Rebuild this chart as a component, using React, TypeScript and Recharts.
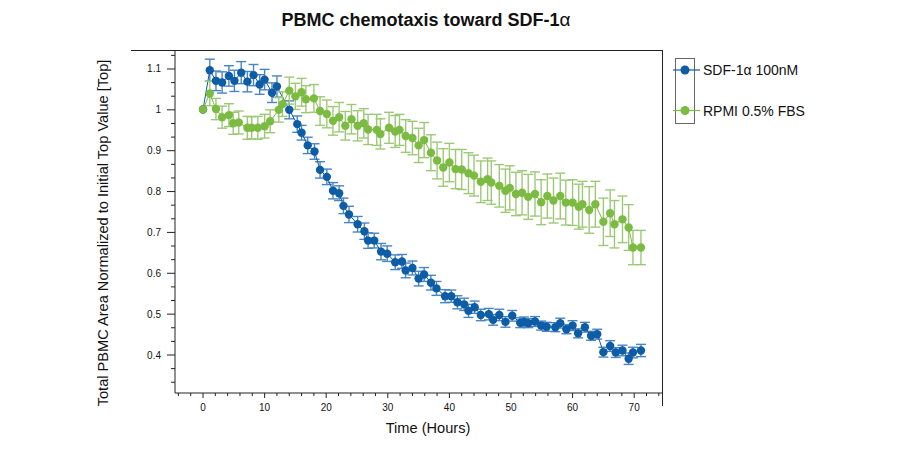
import { LineChart, Line, XAxis, YAxis, ErrorBar } from "recharts"

const FONT = '"Liberation Sans", Arial, Helvetica, sans-serif'

// SDF-1α 100nM
const sdfHours = [
  0, 1.1, 2.1, 3.1, 4.2, 5.1, 6.2, 7.2, 8.2, 9.2, 10.0, 11.2, 12.0,
  14.0,
  15.3, 16.0, 17.0, 18.1, 19.0, 20.1, 21.1, 22.1, 22.8, 23.7, 25.1, 26.2, 26.8, 27.8, 28.9, 29.9,
  31.2, 32.3, 32.9, 34.0, 35.0, 35.9, 37.0, 37.9,
  39.3, 40.3, 41.3, 42.4, 43.1, 44.1, 45.1,
  46.4, 47.1, 48.1, 49.1, 50.2,
  51.5, 52.1, 52.8, 53.9, 54.9, 55.8,
  57.2, 58.0, 59.0, 60.0, 60.9, 62.0, 63.0, 64.0,
  65.0, 66.1, 67.0, 68.1, 69.1, 69.8, 71.1,
]
const sdfValues = [
  1.001, 1.097, 1.071, 1.067, 1.083, 1.071, 1.091, 1.069, 1.085, 1.062, 1.074, 1.042, 1.057,
  1.0,
  0.965, 0.944, 0.913, 0.898, 0.853, 0.836, 0.802, 0.796, 0.765, 0.744, 0.72, 0.703, 0.68, 0.68, 0.653, 0.648,
  0.627, 0.629, 0.607, 0.613, 0.587, 0.597, 0.577, 0.563,
  0.544, 0.544, 0.529, 0.524, 0.508, 0.517, 0.498,
  0.5, 0.486, 0.498, 0.481, 0.496,
  0.479, 0.481, 0.478, 0.482, 0.472, 0.469,
  0.468, 0.478, 0.463, 0.472, 0.453, 0.468, 0.447, 0.451,
  0.407, 0.422, 0.406, 0.411, 0.391, 0.406, 0.411,
]
const sdfErrors = [
  0, 0.027, 0.024, 0.026, 0.025, 0.026, 0.027, 0.025, 0.026, 0.024, 0.025, 0.024, 0.026,
  0.022,
  0.02, 0.018, 0.02, 0.019, 0.02, 0.019, 0.02, 0.018, 0.019, 0.02, 0.019, 0.02, 0.019, 0.018, 0.02, 0.019,
  0.018, 0.017, 0.018, 0.017, 0.018, 0.017, 0.018, 0.017,
  0.016, 0.015, 0.016, 0.015, 0.016, 0.015, 0.014,
  0.014, 0.013, 0.014, 0.013, 0.013,
  0.012, 0.012, 0.011, 0.012, 0.011, 0.011,
  0.011, 0.012, 0.011, 0.012, 0.011, 0.012, 0.011, 0.012,
  0.012, 0.013, 0.012, 0.013, 0.014, 0.013, 0.015,
]

// RPMI 0.5% FBS
const rpmiHours = [
  0, 1.1, 2.1, 3.1, 4.2, 4.9, 5.8, 7.2, 7.9, 8.9, 10.0, 10.9, 12.3, 12.9,
  14.0, 15.0, 16.0, 16.7, 18.0, 19.0, 20.1, 21.1, 22.1, 23.1, 24.1, 25.1, 26.1, 26.8, 28.2, 28.8, 30.2, 31.2, 31.9,
  32.9, 34.0, 35.0, 35.9, 37.0, 38.0, 39.0, 40.0, 41.0, 42.0, 43.1, 44.0, 45.1,
  46.2, 46.8, 48.1, 49.1, 49.8, 50.8, 51.8, 52.8, 53.9, 54.9, 55.9, 56.9, 58.0, 58.9, 60.0, 61.0, 61.6, 62.7, 63.7,
  65.0, 66.1, 66.8, 68.1, 69.1,
  69.8, 71.1,
]
const rpmiValues = [
  1.001, 1.04, 1.002, 0.982, 0.987, 0.967, 0.969, 0.956, 0.956, 0.956, 0.96, 0.972, 1.0, 1.014,
  1.047, 1.033, 1.043, 1.026, 1.028, 0.997, 0.99, 0.973, 0.982, 0.961, 0.977, 0.961, 0.967, 0.952, 0.951, 0.941, 0.956, 0.947, 0.951,
  0.936, 0.931, 0.913, 0.926, 0.895, 0.876, 0.859, 0.871, 0.855, 0.854, 0.845, 0.839, 0.824,
  0.83, 0.822, 0.814, 0.802, 0.809, 0.794, 0.797, 0.787, 0.794, 0.774, 0.789, 0.778, 0.789, 0.773, 0.773, 0.763, 0.769, 0.755, 0.769,
  0.726, 0.747, 0.72, 0.732, 0.712,
  0.663, 0.663,
]
const rpmiErrors = [
  0, 0.03, 0.026, 0.027, 0.028, 0.027, 0.028, 0.028, 0.027, 0.028, 0.029, 0.028, 0.03, 0.03,
  0.033, 0.032, 0.034, 0.033, 0.034, 0.035, 0.034, 0.035, 0.036, 0.035, 0.036, 0.037, 0.036, 0.037, 0.038, 0.037, 0.038, 0.039, 0.038,
  0.04, 0.041, 0.042, 0.043, 0.044, 0.045, 0.046, 0.047, 0.048, 0.049, 0.05, 0.05, 0.051,
  0.052, 0.053, 0.052, 0.053, 0.054, 0.053, 0.054, 0.055, 0.054, 0.055, 0.054, 0.055, 0.056, 0.055, 0.056, 0.055, 0.056, 0.057, 0.056,
  0.058, 0.057, 0.058, 0.057, 0.056,
  0.042, 0.042,
]

const yMajorTicks = [0.4, 0.5, 0.6, 0.7, 0.8, 0.9, 1, 1.1]
const xMajorTicks = [0, 10, 20, 30, 40, 50, 60, 70]

const BLUE = "#0d5ca6"
const BLUE_ERR = "#4a84c2"
const GREEN = "#7cbb42"
const GREEN_ERR = "#9dc977"
const AXIS = "#222"

// minor ticks: 3 per 0.1 on y, every 2 h on x
const yTicks: number[] = []
for (let k = 10; k <= 34; k++) yTicks.push(k / 30)
const xTicks: number[] = []
for (let k = -4; k <= 74; k += 2) xTicks.push(k)

const isYMajor = (v: number) => yMajorTicks.some((m) => Math.abs(m - v) < 1e-6)
const isXMajor = (v: number) => xMajorTicks.includes(v)

const sdfData = sdfHours.map((t, i) => ({ t, v: sdfValues[i], e: sdfErrors[i] }))
const rpmiData = rpmiHours.map((t, i) => ({ t, v: rpmiValues[i], e: rpmiErrors[i] }))

function YTick(props: any) {
  const { x, y, payload } = props
  const major = isYMajor(payload.value)
  return (
    <g>
      <line x1={x - (major ? 8 : 4)} x2={x} y1={y} y2={y} stroke={AXIS} strokeWidth={1} />
      {major && (
        <text x={x - 14} y={y} textAnchor="end" dominantBaseline="central" fontSize={10} fill="#111" fontFamily={FONT}>
          {String(Math.round(payload.value * 10) / 10)}
        </text>
      )}
    </g>
  )
}

function XTick(props: any) {
  const { x, y, payload } = props
  const major = isXMajor(payload.value)
  return (
    <g>
      <line x1={x} x2={x} y1={y} y2={y + (major ? 5 : 3)} stroke={AXIS} strokeWidth={1} />
      {major && (
        <text x={x} y={y + 14} textAnchor="middle" dominantBaseline="central" fontSize={10} fill="#111" fontFamily={FONT}>
          {payload.value}
        </text>
      )}
    </g>
  )
}

function YTitle(props: any) {
  const { x, y, height } = props.viewBox
  const cx = x + 103
  const cy = y + height / 2 + 11
  return (
    <text x={cx} y={cy} transform={`rotate(-90 ${cx} ${cy})`} textAnchor="middle" dominantBaseline="central"
      fontSize={14.6} fill="#111" fontFamily={FONT}>
      Total PBMC Area Normalized to Initial Top Value [Top]
    </text>
  )
}

function XTitle(props: any) {
  const { x, y, width } = props.viewBox
  return (
    <text x={x + width / 2 + 9} y={y + 35} textAnchor="middle" dominantBaseline="central"
      fontSize={14.6} fill="#111" fontFamily={FONT}>
      Time (Hours)
    </text>
  )
}

function LegendBox() {
  const items = [
    { name: "SDF-1α 100nM", color: BLUE, y: 13 },
    { name: "RPMI 0.5% FBS", color: GREEN, y: 53.5 },
  ]
  return (
    <svg width={150} height={70} style={{ position: "absolute", left: 673, top: 57 }}>
      <rect x={2.5} y={1.5} width={19} height={65} fill="none" stroke="#666" strokeWidth={1} />
      {items.map((it) => (
        <g key={it.name}>
          <line x1={0} x2={27} y1={it.y} y2={it.y} stroke={it.color} strokeWidth={1.2} />
          <circle cx={12} cy={it.y} r={4.5} fill={it.color} />
          <text x={30} y={it.y} dominantBaseline="central" fontSize={14} fill="#111" fontFamily={FONT}>
            {it.name}
          </text>
        </g>
      ))}
    </svg>
  )
}

export default function App() {
  return (
    <div style={{ position: "absolute", left: 0, top: 0, width: 900, height: 456, background: "#fff", fontFamily: FONT }}>
      <div style={{ position: "absolute", left: 0, top: 9, width: 852, textAlign: "center", fontSize: 18, fontWeight: "bold", color: "#111", lineHeight: "22px" }}>
        PBMC chemotaxis toward SDF-1<span style={{ fontWeight: "normal", fontSize: 19 }}>α</span>
      </div>
      <LineChart width={900} height={456} margin={{ top: 51, right: 237, bottom: 0, left: 0 }}>
        <XAxis
          type="number"
          dataKey="t"
          domain={[-4.55, 74.68]}
          allowDataOverflow
          ticks={xTicks}
          interval={0}
          tickSize={0}
          tickMargin={0}
          tickLine={false}
          tick={<XTick />}
          height={63}
          axisLine={{ stroke: AXIS, strokeWidth: 1 }}
          label={<XTitle />}
        />
        <YAxis
          type="number"
          domain={[0.307, 1.144]}
          allowDataOverflow
          ticks={yTicks}
          interval={0}
          tickSize={0}
          tickMargin={0}
          tickLine={false}
          tick={<YTick />}
          width={175}
          axisLine={{ stroke: AXIS, strokeWidth: 1 }}
          label={<YTitle />}
        />
        <Line
          data={sdfData}
          dataKey="v"
          name="SDF-1α 100nM"
          type="linear"
          stroke={BLUE}
          strokeWidth={1}
          dot={{ r: 4.2, fill: BLUE, stroke: BLUE, strokeWidth: 0 }}
          activeDot={false}
          isAnimationActive={false}
        >
          <ErrorBar dataKey="e" direction="y" width={5} stroke={BLUE_ERR} strokeWidth={1.4} />
        </Line>
        <Line
          data={rpmiData}
          dataKey="v"
          name="RPMI 0.5% FBS"
          type="linear"
          stroke={GREEN}
          strokeWidth={1}
          dot={{ r: 4.2, fill: GREEN, stroke: GREEN, strokeWidth: 0 }}
          activeDot={false}
          isAnimationActive={false}
        >
          <ErrorBar dataKey="e" direction="y" width={5} stroke={GREEN_ERR} strokeWidth={1.4} />
        </Line>
      </LineChart>
      <div style={{ position: "absolute", left: 131, top: 50, width: 532, height: 1, background: AXIS }} />
      <div style={{ position: "absolute", left: 662, top: 50, width: 1, height: 356, background: AXIS }} />
      <LegendBox />
    </div>
  )
}
